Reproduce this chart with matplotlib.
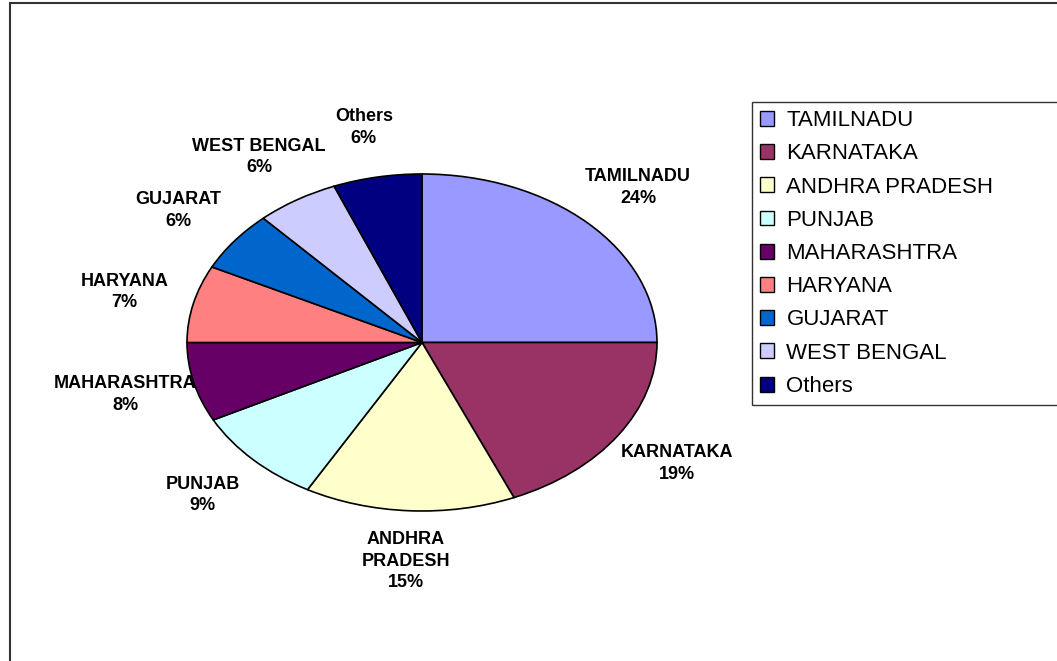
# Pie chart of share by state (Excel-style, stretched ellipse)

import matplotlib.pyplot as plt
from matplotlib.patches import Rectangle

# Data
states = ['TAMILNADU', 'KARNATAKA', 'ANDHRA PRADESH', 'PUNJAB', 'MAHARASHTRA',
          'HARYANA', 'GUJARAT', 'WEST BENGAL', 'Others']
# slice sizes
share = [25, 18.6, 14.5, 9.3, 7.6, 7.4, 5.8, 5.7, 6.1]
# percentages as printed on the chart
pct_text = [24, 19, 15, 9, 8, 7, 6, 6, 6]
slice_names = ['TAMILNADU', 'KARNATAKA', 'ANDHRA\nPRADESH', 'PUNJAB', 'MAHARASHTRA',
               'HARYANA', 'GUJARAT', 'WEST BENGAL', 'Others']
colors = ['#9999FF', '#993366', '#FFFFCC', '#CCFFFF', '#660066',
          '#FF8080', '#0066CC', '#CCCCFF', '#000080']

labels = [f'{n}\n{p}%' for n, p in zip(slice_names, pct_text)]

W, H = 1057, 661
fig = plt.figure(figsize=(W / 100, H / 100), dpi=100)
ax = fig.add_axes([0, 0, 1, 1])

wedges, texts = ax.pie(share, labels=labels, colors=colors, startangle=90,
                       counterclock=False, labeldistance=1.3,
                       wedgeprops=dict(edgecolor='black', linewidth=1.2),
                       textprops=dict(ha='center', va='center', fontweight='bold',
                                      fontsize=13, family='Liberation Sans',
                                      linespacing=1.35))

# stretch the pie into an ellipse, placed like the original
cx, cy, rx, ry = 422, 342.5, 235, 168.5
ax.set_aspect('auto')
ax.set_xlim(-cx / rx, (W - cx) / rx)
ax.set_ylim(-(H - cy) / ry, cy / ry)
ax.axis('off')

# legend
leg = ax.legend(wedges, states, loc='upper left',
                bbox_to_anchor=(752 / W, 1 - 103 / H, 1 - 752 / W + 0.01, 0.001),
                bbox_transform=fig.transFigure, mode='expand',
                prop=dict(family='Liberation Sans', size=16),
                frameon=True, fancybox=False, borderaxespad=0,
                handlelength=0.65, handleheight=0.65, handletextpad=0.55,
                labelspacing=0.55, borderpad=0.35)
leg.get_frame().set_edgecolor('black')
leg.get_frame().set_linewidth(1.0)
for h in leg.legend_handles:
    h.set_edgecolor('black')
    h.set_linewidth(1.0)

# outer chart frame
fig.patches.append(Rectangle((10 / W, -0.01), 1.0, 1 - 3 / H + 0.01,
                             transform=fig.transFigure, fill=False,
                             edgecolor='#333333', linewidth=1.5))

plt.savefig('out.png', dpi=100)
